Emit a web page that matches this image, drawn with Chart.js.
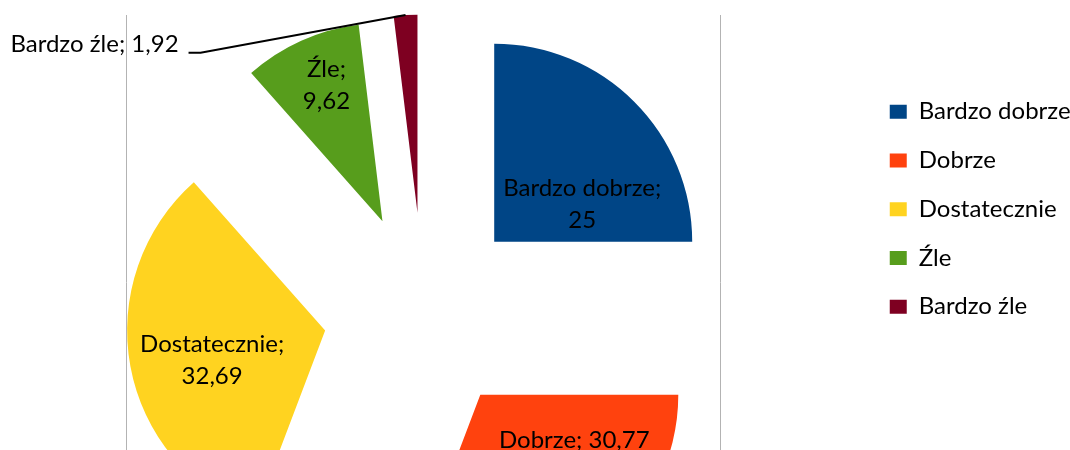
<!DOCTYPE html>
<html lang="pl">
<head>
<meta charset="UTF-8">
<title>Oceny</title>
<script src="https://cdn.jsdelivr.net/npm/chart.js@4/dist/chart.umd.min.js"></script>
<style>
  html, body { margin: 0; padding: 0; background: #fff; }
  #wrap { position: relative; width: 1070px; height: 450px; overflow: hidden; }
  #pie { position: absolute; left: -18px; top: 0; }
</style>
</head>
<body>
<div id="wrap"><canvas id="pie" height="550"></canvas></div>
<script>
// dane wykresu
const categories = ["Bardzo dobrze", "Dobrze", "Dostatecznie", "Źle", "Bardzo źle"];
const percentValues = [25, 30.77, 32.69, 9.62, 1.92];
const sliceColors = ["#004586", "#ff420e", "#ffd320", "#579d1c", "#7e0021"];

// wygląd
const FONT = "Lato";
const fontSize = 24;
const pieRadius = 198;
const explode = 100;         // odsunięcie wycinków od środka
const frameHalfWidth = 297;  // szare linie obszaru wykresu
const labelLineGap = 32;
const plotWidth = 883;       // szerokość obszaru koła (od lewej krawędzi canvasu)
const legendPad = 24.75;
const legendBox = [17, 14];

// przesunięcie etykiety od wierzchołka wycinka
const labelOffsets = [[88, -38], [94, 45], [-113, 30], [-56, -136], [-323, -168]];
const labelWrap = [true, false, true, true, false];
const labelLeader = [false, false, false, false, true];

// rozsuwa wycinki wzdłuż dwusiecznej
const explodePlugin = {
  id: "explode",
  afterDatasetUpdate(chart, args) {
    chart.getDatasetMeta(args.index).data.forEach(arc => {
      const mid = (arc.startAngle + arc.endAngle) / 2;
      arc.x += Math.cos(mid) * explode;
      arc.y += Math.sin(mid) * explode;
    });
  }
};

// pionowe linie ramki
const framePlugin = {
  id: "frame",
  beforeDatasetsDraw(chart) {
    const { ctx, chartArea } = chart;
    const cx = (chartArea.left + chartArea.right) / 2;
    const top = Math.round((chartArea.top + chartArea.bottom) / 2 - pieRadius - explode);
    ctx.save();
    ctx.strokeStyle = "#b3b3b3";
    ctx.lineWidth = 1;
    [cx - frameHalfWidth, cx + frameHalfWidth].forEach(x => {
      const px = Math.floor(x) + 0.5;
      ctx.beginPath();
      ctx.moveTo(px, top);
      ctx.lineTo(px, chart.height);
      ctx.stroke();
    });
    ctx.restore();
  }
};

// etykiety danych "nazwa; wartość"
const labelsPlugin = {
  id: "sliceLabels",
  afterDatasetsDraw(chart) {
    const ctx = chart.ctx;
    const arcs = chart.getDatasetMeta(0).data;
    ctx.save();
    ctx.font = fontSize + "px " + FONT;
    ctx.fillStyle = "#000";
    ctx.textAlign = "center";
    ctx.textBaseline = "middle";
    arcs.forEach((arc, i) => {
      const value = String(percentValues[i]).replace(".", ",");
      const lines = labelWrap[i]
        ? [categories[i] + ";", value]
        : [categories[i] + "; " + value];
      const cx = arc.x + labelOffsets[i][0];
      const cy = arc.y + labelOffsets[i][1];
      const y0 = cy - (lines.length - 1) * labelLineGap / 2;
      lines.forEach((t, k) => ctx.fillText(t, cx, y0 + k * labelLineGap));

      if (labelLeader[i]) {
        const mid = (arc.startAngle + arc.endAngle) / 2;
        const ox = arc.x + Math.cos(mid) * arc.outerRadius;
        const oy = arc.y + Math.sin(mid) * arc.outerRadius;
        const right = cx + ctx.measureText(lines[0]).width / 2;
        ctx.strokeStyle = "#000";
        ctx.lineWidth = 2;
        ctx.beginPath();
        ctx.moveTo(ox, oy);
        ctx.lineTo(right + 22, cy + 8);
        ctx.lineTo(right + 10, cy + 8);
        ctx.stroke();
      }
    });
    ctx.restore();
  }
};

function draw() {
  Chart.defaults.font.family = FONT;
  Chart.defaults.font.size = fontSize;
  Chart.defaults.color = "#000";

  // szerokość legendy liczona tak jak w Chart.js, żeby koło zostało na miejscu
  const canvas = document.getElementById("pie");
  const mctx = document.createElement("canvas").getContext("2d");
  mctx.font = fontSize + "px " + FONT;
  const textW = Math.max(...categories.map(c => mctx.measureText(c).width));
  const legendWidth = legendPad + legendBox[0] + fontSize / 2 + textW + 10;
  const canvasWidth = Math.ceil(plotWidth + legendWidth);
  canvas.width = canvasWidth;

  new Chart(canvas, {
    type: "pie",
    data: {
      labels: categories,
      datasets: [{
        data: percentValues,
        backgroundColor: sliceColors,
        borderWidth: 0,
        radius: pieRadius
      }]
    },
    options: {
      responsive: false,
      animation: false,
      events: [],
      devicePixelRatio: 1,
      layout: { padding: { left: 0, right: canvasWidth - plotWidth - legendWidth, top: 75, bottom: 0 } },
      plugins: {
        tooltip: { enabled: false },
        legend: {
          position: "right",
          align: "start",
          labels: {
            boxWidth: legendBox[0],
            boxHeight: legendBox[1],
            padding: legendPad,
            color: "#000",
            font: { family: FONT, size: fontSize }
          }
        }
      }
    },
    plugins: [explodePlugin, framePlugin, labelsPlugin]
  });
}

document.fonts.load(fontSize + "px " + FONT).then(draw, draw);
</script>
</body>
</html>
